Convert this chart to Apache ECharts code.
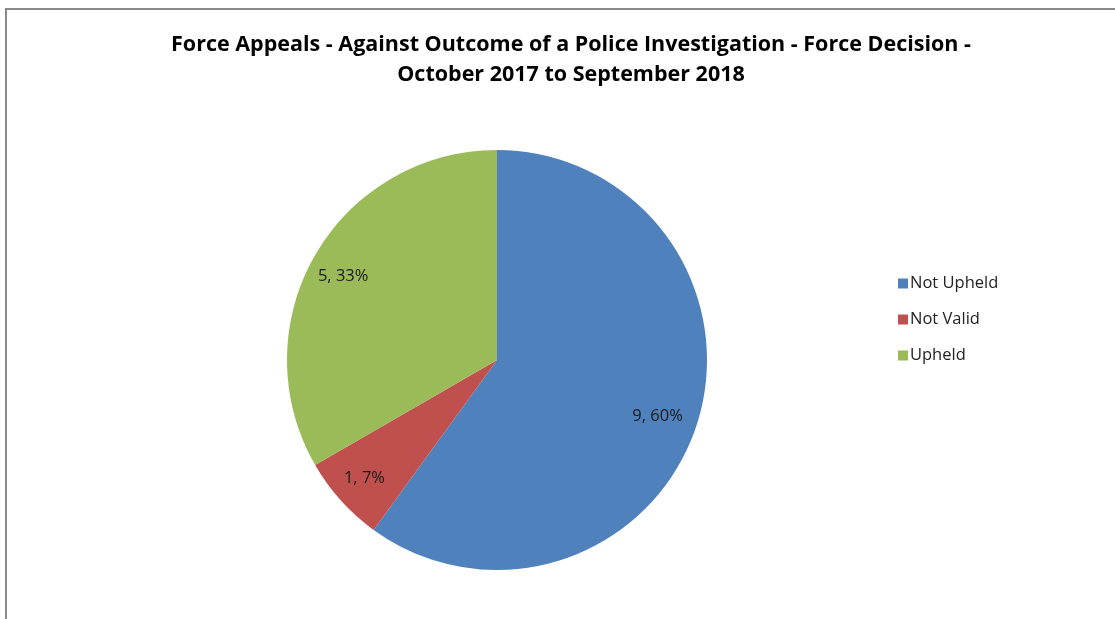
<!DOCTYPE html>
<html><head><meta charset="utf-8">
<script src="https://cdn.jsdelivr.net/npm/echarts@6/dist/echarts.min.js"></script>
<style>html,body{margin:0;padding:0;background:#fff}#c{width:1115px;height:619px}</style>
</head><body><div id="c"></div>
<script>
const categories = ['Not Upheld', 'Not Valid', 'Upheld'];
const values = [9, 1, 5];
const colors = ['#4F81BD', '#C0504D', '#9BBB59'];
const titleText = 'Force Appeals - Against Outcome of a Police Investigation - Force Decision -\nOctober 2017 to September 2018';

const total = values.reduce((a, b) => a + b, 0);
const data = categories.map((n, i) => ({ name: n, value: values[i], itemStyle: { color: colors[i] } }));
const font = 'Open Sans, Noto Sans, sans-serif';
const chart = echarts.init(document.getElementById('c'));
chart.setOption({
  animation: false,
  title: {
    text: titleText, left: 566, top: 25, textAlign: 'center',
    textStyle: { fontFamily: font, fontWeight: 'bold', fontSize: 21.5, lineHeight: 30, color: '#000' }
  },
  graphic: [{ type: 'rect', shape: { x: 6, y: 9, width: 1300, height: 800 }, style: { fill: 'none', stroke: '#8a8a8a', lineWidth: 2 }, silent: true }],
  legend: {
    orient: 'vertical', left: 893, top: 270, itemGap: 19, itemWidth: 10, itemHeight: 10, icon: 'rect',
    data: categories,
    textStyle: { fontFamily: font, fontSize: 16.5, color: '#222', padding: [0, 0, 0, -3] }
  },
  series: [
    {
      type: 'pie', center: [497, 360], radius: [0, 210], startAngle: 90, clockwise: true,
      label: { show: false }, labelLine: { show: false }, data: data, silent: true
    },
    {
      type: 'pie', center: [497, 360], radius: [130, 210], startAngle: 90, clockwise: true,
      silent: true, legendHoverLink: false,
      itemStyle: { color: 'rgba(0,0,0,0)' },
      label: {
        show: true, position: 'inside', fontFamily: font, fontSize: 16.5, color: '#1a1a1a',
        offset: [-4, 3],
        formatter: p => p.value + ', ' + Math.round(p.value / total * 100) + '%'
      },
      labelLine: { show: false },
      data: categories.map((n, i) => ({ name: n, value: values[i], itemStyle: { color: 'rgba(0,0,0,0)' } }))
    }
  ]
});
</script></body></html>
